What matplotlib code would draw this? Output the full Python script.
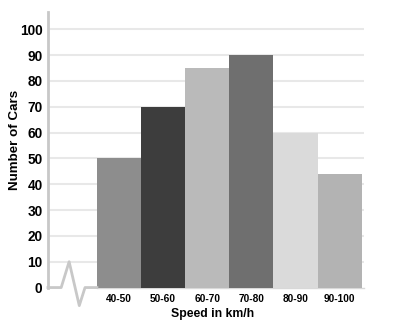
import matplotlib.pyplot as plt

# Data
speed_ranges = ['40-50', '50-60', '60-70', '70-80', '80-90', '90-100']
num_cars = [50, 70, 85, 90, 60, 44]
bar_colors = ['#8d8d8d', '#3d3d3d', '#bababa', '#6f6f6f', '#dadada', '#b3b3b3']
y_ticks = [0, 10, 20, 30, 40, 50, 60, 70, 80, 90, 100]

plt.rcParams['font.family'] = ['Liberation Sans', 'DejaVu Sans']

fig = plt.figure(figsize=(3.93, 3.22), dpi=100)
ax = fig.add_axes([0.122, 0.107, 0.804, 0.856])

x = list(range(len(speed_ranges)))
ax.bar(x, num_cars, width=1.0, color=bar_colors, zorder=3)

ax.set_xlim(-1.61, 5.55)
ax.set_ylim(0, 106.7)

# horizontal grid
for v in y_ticks[1:]:
    ax.axhline(v, color='#e8e8e8', lw=1.5, zorder=1)

# axis break at the start of the x axis
brk_x = [-1.61, -1.31, -1.13, -0.90, -0.77, -0.5]
brk_y = [0, 0, 10, -7, 0, 0]
ax.plot(brk_x, brk_y, color='#c8c8c8', lw=2, clip_on=False, zorder=4)
ax.plot([-0.5, 5.55], [0, 0], color='#d8d8d8', lw=1, clip_on=False, zorder=2)

for s in ['top', 'right', 'bottom']:
    ax.spines[s].set_visible(False)
ax.spines['left'].set_color('#c8c8c8')
ax.spines['left'].set_linewidth(2)

ax.set_yticks(y_ticks)
ax.set_yticklabels([str(v) for v in y_ticks], fontsize=9.8, fontweight='bold')
ax.tick_params(axis='y', length=0, pad=4)

ax.set_xticks(x)
ax.set_xticklabels(speed_ranges, fontsize=7.3, fontweight='bold')
ax.tick_params(axis='x', length=0, pad=4.5)

fig.text(213 / 393, 1 - 314 / 322, 'Speed in km/h', ha='center', va='center',
         fontsize=8.8, fontweight='bold')
fig.text(15.5 / 393, 1 - 140 / 322, 'Number of Cars', ha='center', va='center',
         rotation=90, fontsize=9.6, fontweight='bold')

fig.savefig('out.png', dpi=100)
